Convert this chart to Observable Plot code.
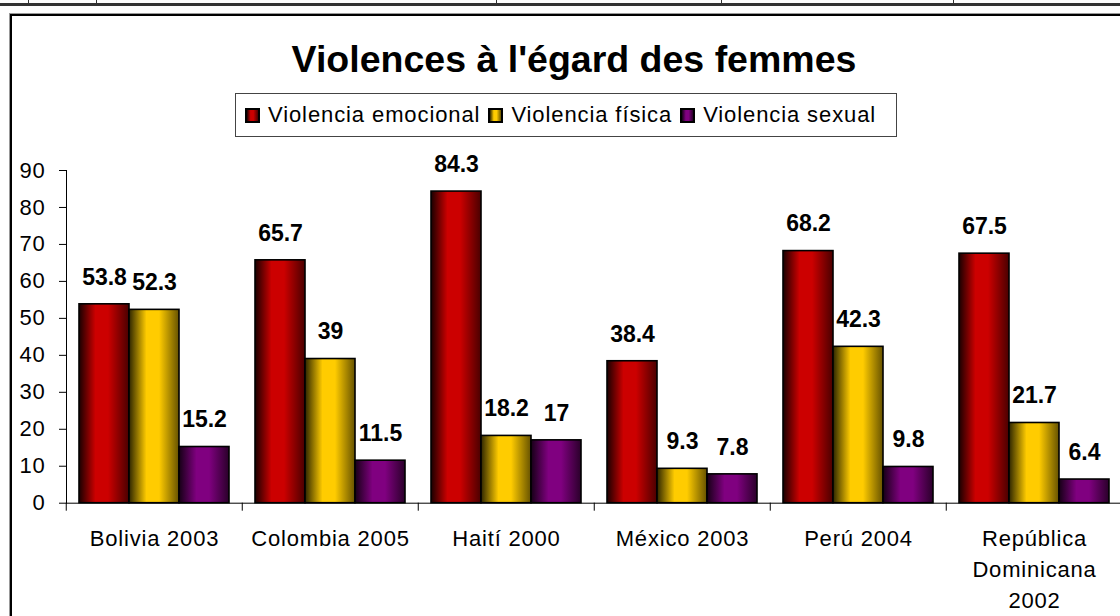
<!DOCTYPE html>
<html>
<head>
<meta charset="utf-8">
<script src="https://cdn.jsdelivr.net/npm/d3@7"></script>
<script src="https://cdn.jsdelivr.net/npm/@observablehq/plot@0.6"></script>
<style>
  html, body { margin: 0; padding: 0; background: #fff; width: 1120px; height: 616px; overflow: hidden; position: relative; font-family: "Liberation Sans", Arial, sans-serif; }
  .topstrip { position: absolute; left: 0; top: 3px; width: 1120px; height: 3px; background: #333; }
  .vtick { position: absolute; top: 0; width: 1px; height: 3px; background: #333; }
  .frame { position: absolute; left: 10px; top: 14px; width: 1300px; height: 800px; border-left: 2px solid #000; border-top: 2px solid #000; box-shadow: -1px -1px 0 #999; }
  .title { position: absolute; left: 574px; top: 40.5px; transform: translateX(-50%); font-size: 37.5px; line-height: 37px; font-weight: bold; white-space: nowrap; color: #000; }
  .legend { position: absolute; left: 235px; top: 93px; width: 662px; height: 44px; border: 1px solid #444; display: flex; align-items: center; padding-left: 9px; box-sizing: border-box; }
  .legend .item { display: flex; align-items: center; margin-right: 8px; }
  .legend .sw { width: 11px; height: 11px; border: 2px solid #000; margin-right: 8px; }
  .legend span { font-size: 22px; letter-spacing: 0.9px; white-space: nowrap; }
  #chart { position: absolute; left: 0; top: 140px; }
  #chart svg text { letter-spacing: 0.8px; }
  #chart svg g[aria-label="text"] text { letter-spacing: 0; }
</style>
</head>
<body>
<div class="topstrip"></div>
<div class="vtick" style="left:28px"></div>
<div class="vtick" style="left:96px"></div>
<div class="vtick" style="left:496px"></div>
<div class="vtick" style="left:721px"></div>
<div class="vtick" style="left:953px"></div>
<div class="frame"></div>
<div class="title">Violences à l'égard des femmes</div>
<div class="legend" id="legend"></div>
<div id="chart"></div>
<script>
const countries = ["Bolivia 2003", "Colombia 2005", "Haití 2000", "México 2003", "Perú 2004", "República Dominicana 2002"];
const xLabels = ["Bolivia 2003", "Colombia 2005", "Haití 2000", "México 2003", "Perú 2004", "República\nDominicana\n2002"];
const seriesNames = ["Violencia emocional", "Violencia física", "Violencia sexual"];
const emocional = [53.8, 65.7, 84.3, 38.4, 68.2, 67.5];
const fisica = [52.3, 39, 18.2, 9.3, 42.3, 21.7];
const sexual = [15.2, 11.5, 17, 7.8, 9.8, 6.4];
const yTicks = [0, 10, 20, 30, 40, 50, 60, 70, 80, 90];

const gradients = [
  {id: "gRed", stops: [["0", "#1a0000"], ["0.33", "#cc0000"], ["0.58", "#cc0000"], ["1", "#4a0000"]]},
  {id: "gYel", stops: [["0", "#2e2600"], ["0.35", "#ffcc00"], ["0.6", "#ffcc00"], ["1", "#665200"]]},
  {id: "gPur", stops: [["0", "#160016"], ["0.35", "#800080"], ["0.6", "#800080"], ["1", "#2a002a"]]}
];
const gradUrls = gradients.map(g => `url(#${g.id})`);

const seriesValues = [emocional, fisica, sexual];
const table = [];
countries.forEach((c, i) => {
  seriesNames.forEach((s, j) => table.push({country: c, series: s, value: seriesValues[j][i]}));
});

const chart = Plot.plot({
  width: 1140,
  height: 476,
  marginLeft: 64,
  marginRight: 17,
  marginTop: 30,
  marginBottom: 113.3,
  style: {fontFamily: "'Liberation Sans', Arial, sans-serif", fontSize: "22px", color: "#000", background: "transparent", maxWidth: "none", overflow: "visible"},
  fx: {domain: countries, paddingInner: 0, paddingOuter: 0, label: null},
  x: {domain: seriesNames, axis: null, paddingInner: 0, paddingOuter: 0.255},
  y: {domain: [0, 90], ticks: yTicks, tickSize: 7, tickPadding: 14, line: true, label: null},
  color: {domain: seriesNames, range: gradUrls},
  marks: [
    Plot.barY(table, {fx: "country", x: "series", y: "value", fill: "series", stroke: "#000", strokeWidth: 1.6}),
    Plot.ruleY([0], {stroke: "#000"}),
    Plot.text(table, {fx: "country", x: "series", y: "value", text: d => String(d.value), dy: -27, fontWeight: "bold", fontSize: 23, fill: "#000"}),
    Plot.axisFx({anchor: "bottom", tickSize: 0, tickPadding: 20, tickFormat: d => xLabels[countries.indexOf(d)], lineHeight: 1.43, label: null}),
    Plot.axisFx({anchor: "bottom", tickSize: 8, text: null, dx: -88.25, label: null})
  ]
});

// gradient definitions referenced by the bar fills
const ns = "http://www.w3.org/2000/svg";
const svgEl = chart.tagName.toLowerCase() === "svg" ? chart : chart.querySelector("svg");
const defs = document.createElementNS(ns, "defs");
gradients.forEach(g => {
  const lg = document.createElementNS(ns, "linearGradient");
  lg.setAttribute("id", g.id);
  lg.setAttribute("x1", "0"); lg.setAttribute("x2", "1"); lg.setAttribute("y1", "0"); lg.setAttribute("y2", "0");
  g.stops.forEach(([o, c]) => {
    const st = document.createElementNS(ns, "stop");
    st.setAttribute("offset", o);
    st.setAttribute("stop-color", c);
    lg.appendChild(st);
  });
  defs.appendChild(lg);
});
svgEl.insertBefore(defs, svgEl.firstChild);
document.getElementById("chart").appendChild(chart);

// legend
const legend = document.getElementById("legend");
seriesNames.forEach((s, j) => {
  const g = gradients[j];
  const item = document.createElement("div");
  item.className = "item";
  const sw = document.createElement("div");
  sw.className = "sw";
  sw.style.background = `linear-gradient(to right, ${g.stops.map(([o, c]) => c + " " + (o * 100) + "%").join(", ")})`;
  const t = document.createElement("span");
  t.textContent = s;
  item.appendChild(sw);
  item.appendChild(t);
  legend.appendChild(item);
});
</script>
</body>
</html>
